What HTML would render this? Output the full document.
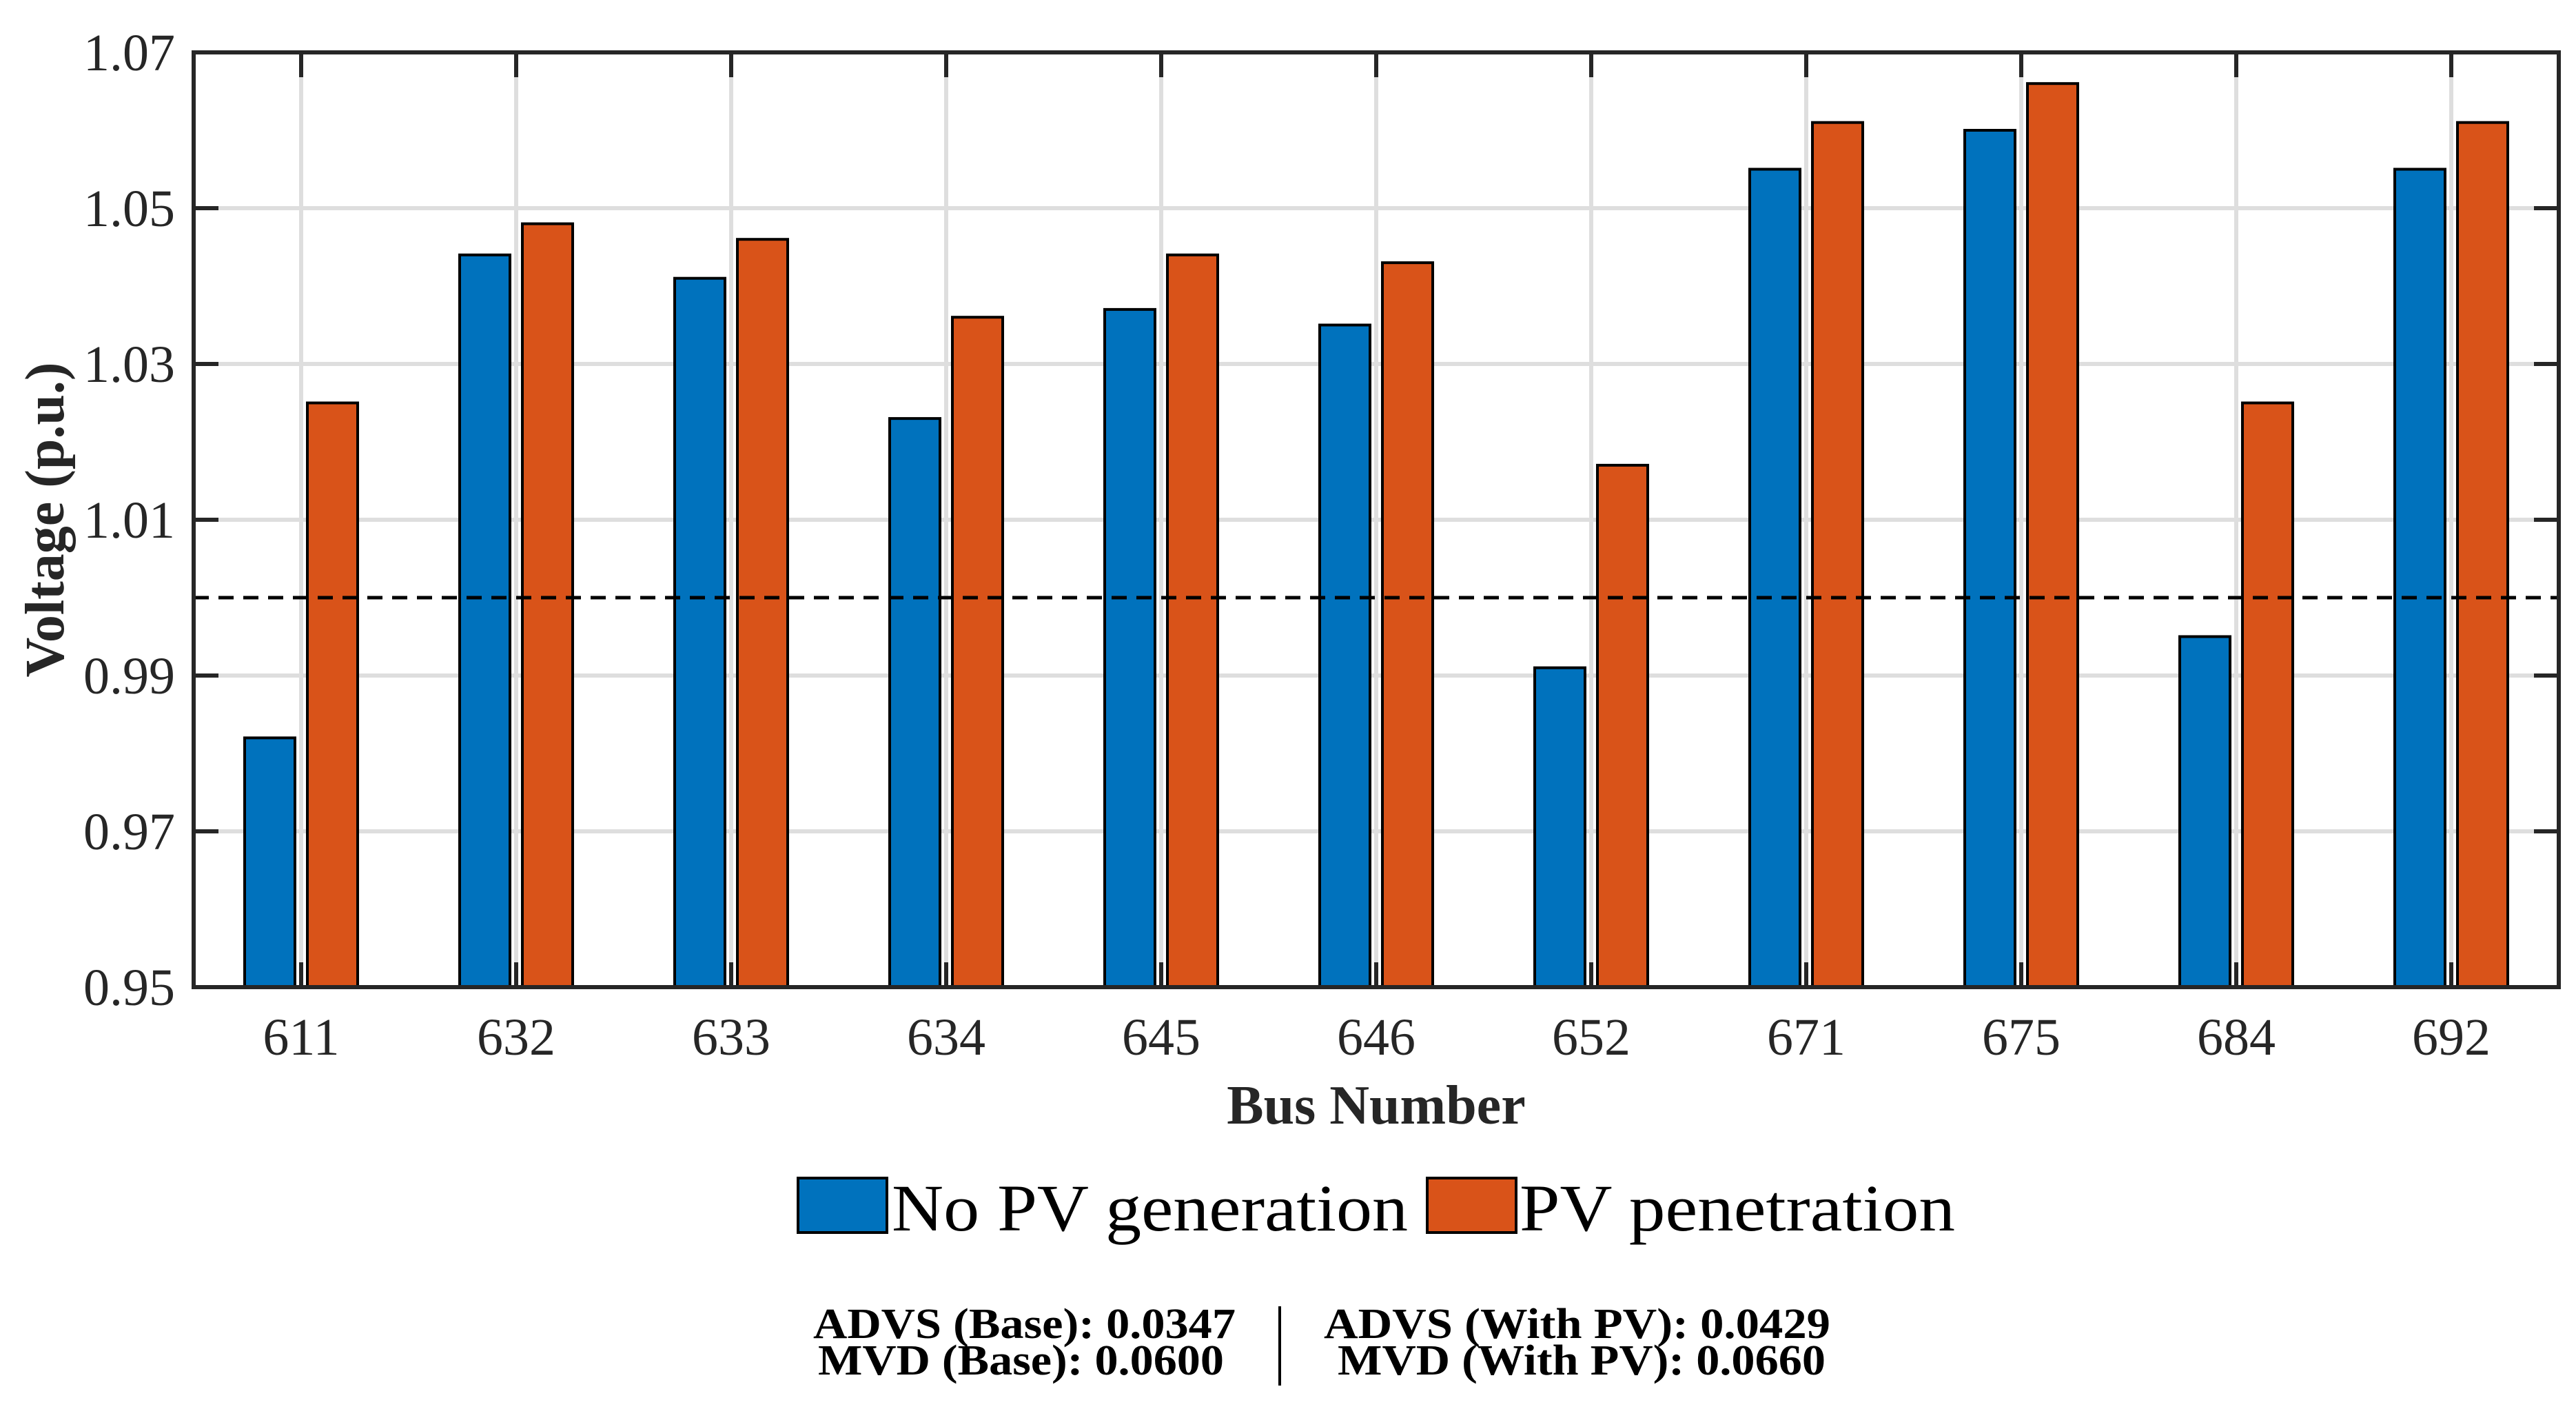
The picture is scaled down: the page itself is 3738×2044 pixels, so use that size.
<!DOCTYPE html>
<html><head><meta charset="utf-8"><style>
html,body{margin:0;padding:0;background:#fff;}
svg{display:block;font-family:"Liberation Serif",serif;}
</style></head><body>
<svg id="chart" width="3738" height="2044" viewBox="0 0 3738 2044" xmlns="http://www.w3.org/2000/svg">
<rect width="3738" height="2044" fill="#fff"/>
<g id="grid"></g>
<g id="bars"></g>
<g id="axes"></g>
<g id="legend">
  <rect x="1158" y="1709" width="129" height="79" fill="#0072BD" stroke="#000" stroke-width="4"/>
  <text x="1294" y="1785" font-size="96" fill="#000" textLength="749" lengthAdjust="spacingAndGlyphs">No PV generation</text>
  <rect x="2071" y="1709" width="129" height="79" fill="#D95319" stroke="#000" stroke-width="4"/>
  <text x="2205" y="1785" font-size="96" fill="#000" textLength="632" lengthAdjust="spacingAndGlyphs">PV penetration</text>
</g>
<g font-weight="bold" font-size="62" fill="#000">
  <text x="1180" y="1941" textLength="613" lengthAdjust="spacingAndGlyphs">ADVS (Base): 0.0347</text>
  <text x="1187" y="1994" textLength="589" lengthAdjust="spacingAndGlyphs">MVD (Base): 0.0600</text>
  <line x1="1857" y1="1895" x2="1857" y2="2010" stroke="#000" stroke-width="4"/>
  <text x="1921" y="1941" textLength="735" lengthAdjust="spacingAndGlyphs">ADVS (With PV): 0.0429</text>
  <text x="1941" y="1994" textLength="708" lengthAdjust="spacingAndGlyphs">MVD (With PV): 0.0660</text>
</g>
</svg>
<script>
const categories = ["611","632","633","634","645","646","652","671","675","684","692"];
const noPV = [0.982,1.044,1.041,1.023,1.037,1.035,0.991,1.055,1.060,0.995,1.055];
const withPV = [1.025,1.048,1.046,1.036,1.044,1.043,1.017,1.061,1.066,1.025,1.061];
const yTicks = [0.95,0.97,0.99,1.01,1.03,1.05,1.07];
const yTickLabels = ["0.95","0.97","0.99","1.01","1.03","1.05","1.07"];
const refLine = 1.00;

const L=281,R=3713,T=76,B=1432,yMin=0.95,yMax=1.07;
const NS="http://www.w3.org/2000/svg";
const step=(R-L)/categories.length;
function xPos(i){return L+step*(i+0.5);}
function yPos(v){return B-(v-yMin)/(yMax-yMin)*(B-T);}
function mk(tag,attrs,parent){const e=document.createElementNS(NS,tag);for(const k in attrs)e.setAttribute(k,attrs[k]);parent.appendChild(e);return e;}
const grid=document.getElementById('grid'),bars=document.getElementById('bars'),axes=document.getElementById('axes');

yTicks.forEach((v,i)=>{
  if(i>0&&i<yTicks.length-1){const g=mk('line',{x1:L,x2:R,y1:yPos(v),y2:yPos(v),stroke:'#dedede','stroke-width':6},grid);
  
  }
  const t=mk('text',{x:254,y:yPos(v)+26,'text-anchor':'end','font-size':76,fill:'#262626'},axes);
  t.textContent=yTickLabels[i];
  
  
  [[L,L+36],[R-36,R]].forEach(p=>{const tk=mk('line',{x1:p[0],x2:p[1],y1:yPos(v),y2:yPos(v),stroke:'#262626','stroke-width':6},axes);
  
  });
});
categories.forEach((c,i)=>{
  const x=xPos(i);
  const g=mk('line',{x1:x,x2:x,y1:T,y2:B,stroke:'#dedede','stroke-width':6},grid);
  
  
  [[T,T+36],[B-36,B]].forEach(p=>{const tk=mk('line',{x1:x,x2:x,y1:p[0],y2:p[1],stroke:'#262626','stroke-width':6},axes);
  
  });
  const t=mk('text',{x:x,y:1530,'text-anchor':'middle','font-size':76,fill:'#262626'},axes);
  t.textContent=c;
  
  
  const bw=73;
  const b1=mk('rect',{x:x-45.5-bw/2,y:yPos(noPV[i]),width:bw,height:B-yPos(noPV[i]),fill:'#0072BD',stroke:'#000','stroke-width':4},bars);
  
  
  const b2=mk('rect',{x:x+45.5-bw/2,y:yPos(withPV[i]),width:bw,height:B-yPos(withPV[i]),fill:'#D95319',stroke:'#000','stroke-width':4},bars);
  
  
});
const rl=mk('line',{x1:L,x2:R,y1:yPos(refLine),y2:yPos(refLine),stroke:'#000','stroke-width':5,'stroke-dasharray':'22 14'},axes);


const box=mk('rect',{x:L,y:T,width:R-L,height:B-T,fill:'none',stroke:'#262626','stroke-width':6},axes);


const xt=mk('text',{x:(L+R)/2,y:1630,'text-anchor':'middle','font-size':80,'font-weight':'bold',fill:'#262626'},axes);
xt.textContent='Bus Number';


const yt=mk('text',{x:0,y:0,'text-anchor':'middle','font-size':80,'font-weight':'bold',fill:'#262626',transform:'translate(92,754) rotate(-90)'},axes);
yt.textContent='Voltage (p.u.)';


</script>
</body></html>
